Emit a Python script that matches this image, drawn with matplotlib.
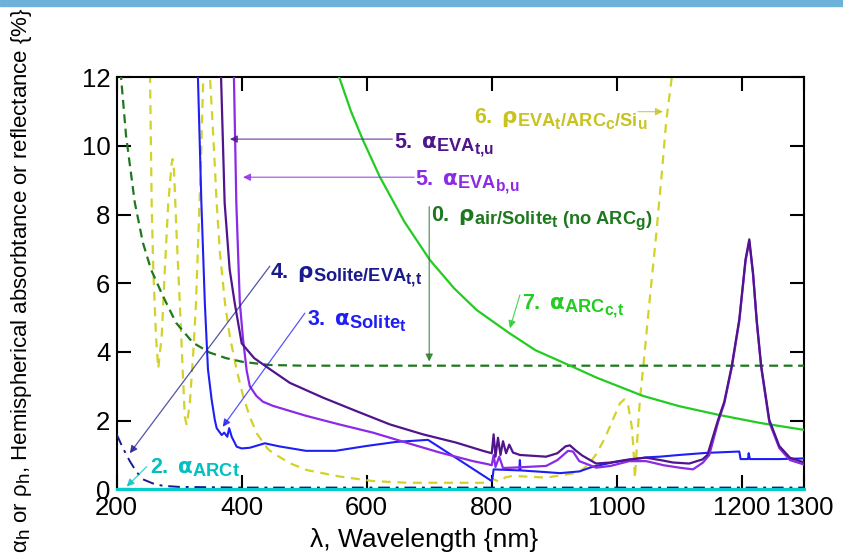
import matplotlib
matplotlib.use('Agg')
import matplotlib.pyplot as plt
from matplotlib.patches import Rectangle
import matplotlib._mathtext as mt

# subscripts in the original are bigger than mathtext's default
mt.SHRINK_FACTOR = 0.85

plt.rcParams['font.family'] = 'Liberation Sans'
plt.rcParams['mathtext.fontset'] = 'custom'
plt.rcParams['mathtext.rm'] = 'Liberation Sans'
plt.rcParams['mathtext.bf'] = 'Liberation Sans:bold'
plt.rcParams['mathtext.it'] = 'Liberation Sans:italic'
plt.rcParams['mathtext.sf'] = 'DejaVu Sans:bold'

# 0. rho air/Solite (dark green dashed)
lam0 = [200, 207, 215, 229, 242, 255, 274, 295, 322, 349, 375, 402, 445, 500, 1300]
r0 = [14.3, 12.0, 10.3, 8.35, 7.18, 6.4, 5.63, 4.85, 4.27, 3.98, 3.82, 3.71, 3.62, 3.6, 3.6]

# 7. alpha ARC c,t (green)
lam7 = [545, 556, 575, 594, 621, 660, 701, 740, 776, 828, 870, 928, 968, 1042, 1100, 1165, 1230, 1300]
a7 = [12.6, 12.0, 11.0, 10.17, 9.1, 7.8, 6.68, 5.85, 5.22, 4.55, 4.05, 3.58, 3.25, 2.72, 2.42, 2.16, 1.93, 1.73]

# 6. rho EVA/ARC/Si (yellow dashed)
lam6 = [251, 253.4, 256, 258.6, 262.9, 266.5, 272, 277, 282.5, 288, 289.5, 291.7, 296, 301, 305.6,
        309, 312, 317, 322.5, 326.9, 330.6, 334.4, 338.5, 340,
        348, 349.3, 354.6, 360, 365.3, 373.3, 381, 392, 402.5, 413, 424, 442, 450.5, 477, 504, 557,
        610, 664, 793, 802, 812, 822, 834, 887, 940, 956.5, 967, 981, 994, 1005, 1012, 1018, 1024,
        1026.5, 1029, 1031, 1034, 1037, 1042, 1052, 1063, 1072, 1079, 1088, 1092]
r6 = [13.0, 12.0, 8.3, 6.39, 4.45, 3.52, 4.45, 6.39, 8.33, 9.5, 9.62, 9.3, 7.36, 5.42, 3.47,
      2.11, 1.87, 2.5, 3.96, 5.42, 7.36, 9.3, 12.0, 12.8,
      12.8, 12.0, 10.27, 8.33, 6.87, 5.42, 4.45, 3.47, 2.7, 2.11, 1.63, 1.17, 1.05, 0.76, 0.56, 0.37,
      0.24, 0.19, 0.19, 0.3, 0.22, 0.35, 0.39, 0.34, 0.49, 0.76, 1.02, 1.49, 2.04, 2.5, 2.62, 2.47, 1.82,
      1.24, 0.32, 0.9, 1.8, 2.6, 3.5, 5.4, 7.4, 9.2, 10.7, 12.0, 12.8]

# 3. alpha Solite t (blue)
lam3 = [326, 330, 335.5, 341, 346, 352, 357, 360, 368, 372, 377, 380, 384, 392, 400, 413, 437, 460,
        503, 550, 599, 647, 698, 750, 800, 801, 803, 844, 845, 846, 887, 909, 940, 962, 993, 1016,
        1047, 1069, 1100, 1143, 1196, 1198, 1210, 1211, 1213, 1260, 1300]
a3 = [14.0, 12.0, 8.35, 5.44, 3.5, 2.6, 2.02, 1.78, 1.58, 1.65, 1.53, 1.78, 1.53, 1.24, 1.19, 1.21, 1.34, 1.25,
      1.12, 1.12, 1.26, 1.38, 1.44, 0.83, 0.24, 0.3, 0.58, 0.55, 0.85, 0.55, 0.5, 0.47, 0.52, 0.66, 0.78, 0.85,
      0.93, 0.95, 1.0, 1.06, 1.1, 0.88, 0.88, 1.05, 0.88, 0.88, 0.9]

# 5. alpha EVA t,u (dark purple)
lam5t = [365, 367, 372.7, 380.7, 388.7, 400, 420, 445, 477, 530, 583, 637, 690, 743, 786, 800, 803,
         806, 810, 814, 818, 823, 828, 834, 845, 870, 887, 905, 918, 925, 935, 945, 967, 990, 1020,
         1047, 1070, 1090, 1116, 1137, 1145, 1162, 1172, 1184, 1196, 1206, 1212, 1218, 1224, 1231,
         1244, 1260, 1277, 1300]
a5t = [13.0, 12.0, 8.35, 6.41, 5.44, 4.25, 3.82, 3.5, 3.1, 2.67, 2.28, 1.89, 1.6, 1.36, 1.12, 1.05, 1.6,
       0.95, 1.5, 1.0, 1.4, 1.05, 1.3, 1.07, 1.0, 0.97, 0.95, 1.05, 1.25, 1.28, 1.12, 0.98, 0.75, 0.78, 0.87,
       0.92, 0.85, 0.78, 0.75, 0.87, 1.0, 2.02, 2.55, 3.6, 4.95, 6.7, 7.28, 6.3, 4.9, 3.6,
       2.02, 1.26, 0.92, 0.78]

# 5. alpha EVA b,u (violet)
lam5b = [385, 387.6, 391.4, 397, 402, 408, 413, 423.5, 434, 450, 503, 556, 610, 663, 717, 770, 794,
         800, 803, 806, 812, 818, 833, 887, 905, 922, 930, 940, 967, 990, 1020, 1047, 1075, 1100,
         1122, 1138, 1148, 1162, 1172, 1184, 1196, 1206, 1212, 1218, 1224, 1231, 1244, 1260, 1277, 1300]
a5b = [13.0, 12.0, 8.35, 5.44, 4.4, 3.45, 3.0, 2.72, 2.55, 2.43, 2.14, 1.89, 1.65, 1.36, 1.07, 0.82, 0.73,
       0.7, 1.0, 0.65, 0.95, 0.62, 0.63, 0.68, 0.85, 1.12, 1.1, 0.82, 0.63, 0.68, 0.82, 0.82, 0.7, 0.63,
       0.58, 0.78, 1.0, 1.95, 2.5, 3.55, 4.9, 6.65, 7.22, 6.25, 4.85, 3.55, 1.95, 1.2, 0.85, 0.72]

# 4. rho Solite/EVA t,t (navy dash-dot)
lam4 = [200, 210, 221, 232, 242, 258, 274, 300, 400, 1300]
r4 = [1.6, 1.2, 0.82, 0.5, 0.29, 0.17, 0.1, 0.07, 0.05, 0.05]

# 2. alpha ARC t (cyan)
lam2 = [200, 1300]
a2 = [0.01, 0.01]

xticks = [200, 400, 600, 800, 1000, 1200, 1300]
yticks = [0, 2, 4, 6, 8, 10, 12]

fig = plt.figure(figsize=(8.43, 5.55), dpi=100)
fig.patches.append(Rectangle((0, 1 - 6 / 555), 1, 6 / 555, transform=fig.transFigure,
                             color='#6eb2da', zorder=0))
ax = fig.add_axes([0.1384, 0.1184, 0.8157, 0.7423])

c_yel = '#d2d22a'
c_dkg = '#1e781e'
c_grn = '#22cc22'
c_blu = '#1e1ef5'
c_pur = '#50148c'
c_vio = '#8c2be6'
c_nav = '#1a1a8c'
c_cya = '#00cccc'

ax.plot(lam6, r6, color=c_yel, lw=1.6, dashes=(4, 3), zorder=2)
ax.plot(lam0, r0, color=c_dkg, lw=1.6, dashes=(4, 2.5), zorder=3)
ax.plot(lam7, a7, color=c_grn, lw=1.6, zorder=3)
ax.plot(lam3, a3, color=c_blu, lw=1.5, zorder=4)
ax.plot(lam5b, a5b, color=c_vio, lw=1.6, zorder=5)
ax.plot(lam5t, a5t, color=c_pur, lw=1.6, zorder=6)
ax.plot(lam4, r4, color=c_nav, lw=1.4, dashes=(6, 3, 1.5, 3), zorder=4)
ax.plot(lam2, a2, color=c_cya, lw=2.2, zorder=7, clip_on=False)

ax.set_xlim(200, 1300)
ax.set_ylim(0, 12)
ax.set_xticks(xticks)
ax.set_yticks(yticks)
ax.tick_params(direction='in', length=10, width=1.5, top=True, right=True, labelsize=18.5)
ax.tick_params(axis='x', pad=5)
ax.tick_params(axis='y', pad=4.5)
for s in ax.spines.values():
    s.set_linewidth(1.5)

fs = 15.5


def note(x, y, s, color, start, tip):
    ax.text(x, y, s, color=color, fontsize=fs, ha='left', va='baseline', zorder=10)
    ax.annotate('', xy=tip, xytext=start,
                arrowprops=dict(arrowstyle='-|>', color=color, lw=0.9, alpha=0.75,
                                mutation_scale=11, shrinkA=0, shrinkB=0), zorder=9)


note(644, 9.96, r'$\mathbf{5.\ }\mathsf{α}_{\mathbf{EVA}_{\mathbf{t{,}u}}}$', c_pur, (641, 10.2), (381, 10.2))
note(677, 8.86, r'$\mathbf{5.\ }\mathsf{α}_{\mathbf{EVA}_{\mathbf{b{,}u}}}$', c_vio, (676, 9.09), (402, 9.09))
note(703, 7.8, r'$\mathbf{0.\ }\mathsf{ρ}_{\mathbf{air/Solite}_{\mathbf{t}}\mathbf{\ (no\ ARC}_{\mathbf{g}}\mathbf{)}}$',
     c_dkg, (700, 8.23), (700, 3.72))
note(771, 10.66, r'$\mathbf{6.\ }\mathsf{ρ}_{\mathbf{EVA}_{\mathbf{t}}\mathbf{/ARC}_{\mathbf{c}}\mathbf{/Si}_{\mathbf{u}}}$',
     '#c8c31e', (1034, 11.0), (1074, 11.0))
note(849, 5.27, r'$\mathbf{7.\ }\mathsf{α}_{\mathbf{ARC}_{\mathbf{c{,}t}}}$', c_grn, (845, 5.66), (829, 4.69))
note(446, 6.15, r'$\mathbf{4.\ }\mathsf{ρ}_{\mathbf{Solite/EVA}_{\mathbf{t{,}t}}}$', c_nav, (445, 6.5), (221, 1.05))
note(505, 4.79, r'$\mathbf{3.\ }\mathsf{α}_{\mathbf{Solite}_{\mathbf{t}}}$', c_blu, (501, 5.13), (369.6, 1.82))
note(253, 0.47, r'$\mathbf{2.\ }\mathsf{α}_{\mathbf{ARCt}}$', '#00c0c0', (248, 0.66), (216, 0.08))

fig.text(424 / 843, 1 - 547 / 555, 'λ, Wavelength {nm}', ha='center', va='baseline', fontsize=19)
fig.text(22 / 843, 1 - 280 / 555, r'$\mathrm{α}_\mathrm{h}$ or $\mathrm{ρ}_\mathrm{h}$, Hemispherical absorbtance or reflectance {%}',
         rotation=90, ha='center', va='center', fontsize=16)

fig.savefig('out.png', dpi=100)
